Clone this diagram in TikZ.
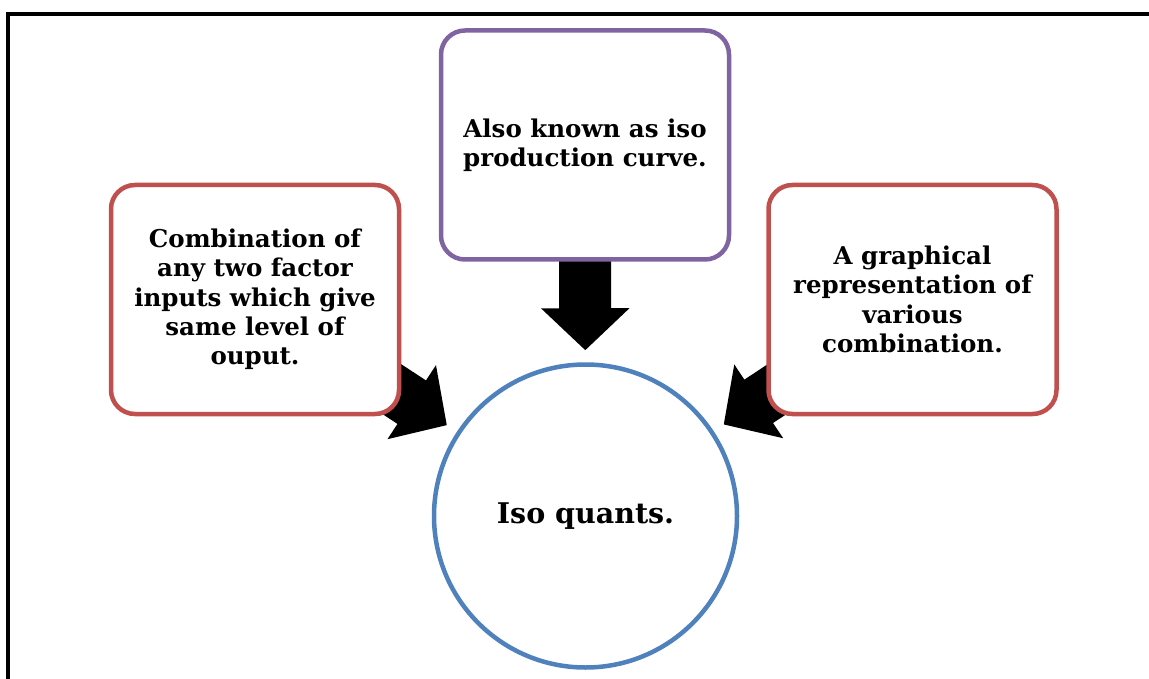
\documentclass[tikz,border=0pt]{standalone}
\usepackage{fontspec}
\setmainfont{DejaVu Serif}
\usetikzlibrary{arrows.meta,backgrounds}

\definecolor{boxred}{HTML}{C0504D}
\definecolor{boxpurple}{HTML}{8064A2}
\definecolor{circblue}{HTML}{4F81BD}

\begin{document}
\begin{tikzpicture}[x=1pt, y=-1pt,
		infobox/.style={draw, line width=4.5pt, fill=white, rounded corners=24pt,
			minimum width=288pt, minimum height=229pt, inner sep=0pt, align=center,
			font=\fontsize{24.5}{29.3}\selectfont\bfseries},
		fatarrow/.style={line width=52pt, shorten >=12pt,
			-{Triangle[width=86pt, length=42pt]}}]
	\useasboundingbox (0,0) rectangle (1149,679);
	
	% ------------------ page frame ------------------
	\draw[line width=4pt] (1149,14) -- (7.5,14) -- (7.5,679);
	
	% ------------------ the three statements ------------------
	\node[infobox, draw=boxred] (combo) at (255,299.5)
		{Combination of\\any two factor\\inputs which give\\same level of\\ouput.};
	\node[infobox, draw=boxpurple] (known) at (585,145)
		{Also known as iso\\production curve.};
	\node[infobox, draw=boxred] (graph) at (912.5,299.5)
		{A graphical\\representation of\\various\\combination.};
	
	% ------------------ centre circle ------------------
	\node[circle, draw=circblue, line width=4.5pt, minimum size=303pt, inner sep=0pt,
		font=\fontsize{28.5}{32}\selectfont\bfseries] (iso) at (585.5,516) {Iso quants.};
	
	% block arrows, shafts hidden under the boxes
	\begin{pgfonlayer}{background}
		\draw[fatarrow] (combo.center) -- (iso);
		\draw[fatarrow] (known.center) -- (iso);
		\draw[fatarrow] (graph.center) -- (iso);
	\end{pgfonlayer}
\end{tikzpicture}
\end{document}
